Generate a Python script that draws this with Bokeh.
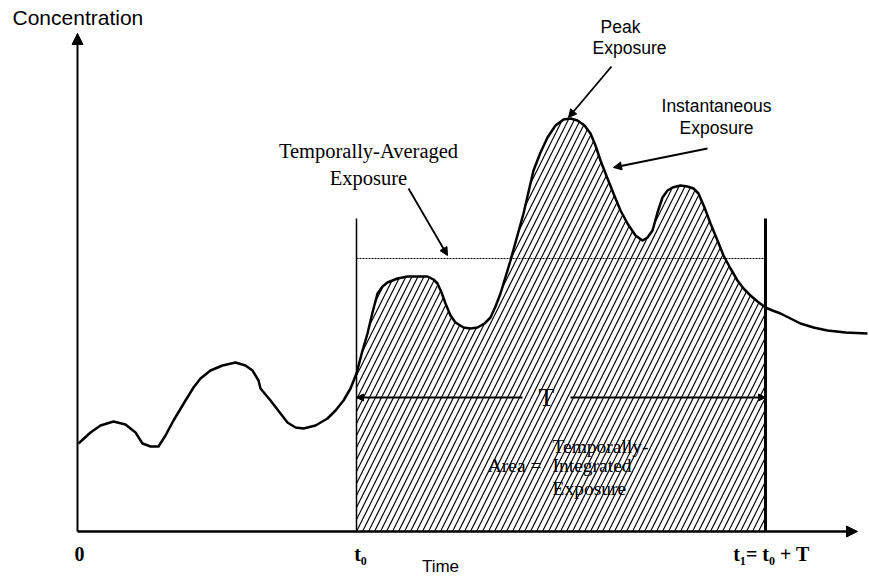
import numpy as np
from bokeh.plotting import figure
from bokeh.models import Range1d, Arrow, NormalHead, Label
from bokeh.embed import file_html
from bokeh.resources import INLINE

# Instantaneous concentration curve (time, concentration)
time = [1, 13, 23, 36, 48, 58, 65, 73, 81, 88, 96, 108, 116, 123, 133, 145, 158, 168,
        175, 181, 183, 193, 203, 210, 218, 226, 238, 250, 258, 266, 273, 279, 285, 290,
        295, 300, 305, 310, 320, 330, 340, 350, 356, 360, 364, 368, 373, 378, 386, 393,
        400, 407, 413, 418, 423, 433, 446, 456, 463, 470, 478, 486, 493, 500, 507, 513,
        518, 523, 530, 536, 543, 550, 558, 565, 570, 575, 580, 585, 590, 595, 603, 610,
        616, 621, 627, 633, 640, 646, 653, 660, 666, 673, 680, 688, 695, 703, 713, 723,
        736, 750, 768, 790]
conc = [88, 99, 106, 110, 107, 99, 88, 85, 85, 96, 111, 131, 144, 153, 161, 166, 169, 166,
        161, 151, 143, 131, 118, 109, 104, 103, 106, 113, 121, 131, 143, 158, 181, 198,
        219, 238, 245, 249, 253, 255, 255, 255, 252, 248, 239, 228, 216, 209, 204, 203,
        204, 208, 214, 225, 238, 271, 318, 361, 379, 394, 406, 412, 413, 411, 406, 398,
        386, 371, 353, 338, 321, 308, 296, 291, 294, 301, 319, 334, 341, 344, 346, 345,
        343, 338, 324, 308, 291, 276, 263, 251, 243, 236, 230, 224, 221, 218, 213, 208,
        204, 201, 199, 198]

t_start = 279          # t0
t_end = 688            # t1 = t0 + T
avg_level = 273        # temporally-averaged exposure
window_top = 313       # height of the averaging-window bars
T_level = 134          # height of the T double arrow
y_axis_top = 498
x_axis_end = 780

bottom_labels = ["0", "t₀", "t₁= t₀ + T"]
bottom_label_x = [2, 283, 694]

t = np.array(time, dtype=float)
c = np.array(conc, dtype=float)
mask = (t >= t_start) & (t <= t_end)

p = figure(width=869, height=580, output_backend="svg", toolbar_location=None,
           x_range=Range1d(-77, 792), y_range=Range1d(-49, 531),
           x_axis_location=None, y_axis_location=None, min_border=0)
p.grid.visible = False
p.outline_line_color = None
p.background_fill_color = "white"
p.border_fill_color = "white"

# hatched integrated exposure
p.varea(x=t[mask], y1=np.zeros(mask.sum()), y2=c[mask], fill_alpha=0,
        hatch_pattern="/", hatch_color="black", hatch_scale=12, hatch_weight=1.2)

# window verticals
p.segment(x0=[t_start], y0=[0], x1=[t_start], y1=[window_top], line_color="black", line_width=1.5)
p.segment(x0=[t_end], y0=[0], x1=[t_end], y1=[window_top], line_color="black", line_width=3)

# averaged level
p.segment(x0=[t_start], y0=[avg_level], x1=[t_end], y1=[avg_level], line_color="black",
          line_width=1, line_dash="2 1")

# curve
p.line(t, c, line_color="black", line_width=2.5, line_join="round")

# axes
p.add_layout(Arrow(end=NormalHead(size=11, fill_color="black", line_color="black"),
                   x_start=0, y_start=0, x_end=0, y_end=y_axis_top,
                   line_color="black", line_width=2))
p.add_layout(Arrow(end=NormalHead(size=11, fill_color="black", line_color="black"),
                   x_start=0, y_start=0, x_end=x_axis_end, y_end=0,
                   line_color="black", line_width=2.5))

# T double arrow
T_x = 469
p.add_layout(Arrow(end=NormalHead(size=7, fill_color="black", line_color="black"),
                   x_start=T_x - 24, y_start=T_level, x_end=t_start, y_end=T_level,
                   line_color="black", line_width=1.8))
p.add_layout(Arrow(end=NormalHead(size=7, fill_color="black", line_color="black"),
                   x_start=T_x + 24, y_start=T_level, x_end=t_end, y_end=T_level,
                   line_color="black", line_width=1.8))
p.add_layout(Label(x=T_x, y=T_level, text="T", text_font="Liberation Serif",
                   text_font_size="26px", text_align="center", text_baseline="middle",
                   text_color="black"))

# annotation arrows
def pointer(xs, ys, xe, ye):
    p.add_layout(Arrow(end=NormalHead(size=8, fill_color="black", line_color="black"),
                       x_start=xs, y_start=ys, x_end=xe, y_end=ye,
                       line_color="black", line_width=1.8))

pointer(534, 465, 491, 414)
pointer(630, 383, 536, 364)
pointer(331, 343, 370, 276)

def lab(x, y, text, font="Liberation Sans", size="17px", align="center", style="normal"):
    p.add_layout(Label(x=x, y=y, text=text, text_font=font, text_font_size=size,
                       text_align=align, text_baseline="middle", text_color="black",
                       text_font_style=style))

lab(-65, 514, "Concentration", size="21px", align="left")
lab(543, 505, "Peak", size="17.5px")
lab(552, 484, "Exposure", size="17.5px")
lab(639, 426, "Instantaneous", size="17.5px")
lab(639, 404, "Exposure", size="17.5px")
lab(291, 381, "Temporally-Averaged", font="Liberation Serif", size="20.5px")
lab(291, 354, "Exposure", font="Liberation Serif", size="20.5px")

lab(475, 85, "Temporally-", font="Liberation Serif", size="19.5px", align="left")
lab(475, 66, "Integrated", font="Liberation Serif", size="19.5px", align="left")
lab(475, 43, "Exposure", font="Liberation Serif", size="19.5px", align="left")
lab(464, 66, "Area =", font="Liberation Serif", size="19.5px", align="right")

for bx, bt in zip(bottom_label_x, bottom_labels):
    lab(bx, -22, bt, font="Liberation Serif", size="20px", style="bold")
lab(363, -35, "Time", size="17px")

open("out.html", "w").write(file_html(p, INLINE))
